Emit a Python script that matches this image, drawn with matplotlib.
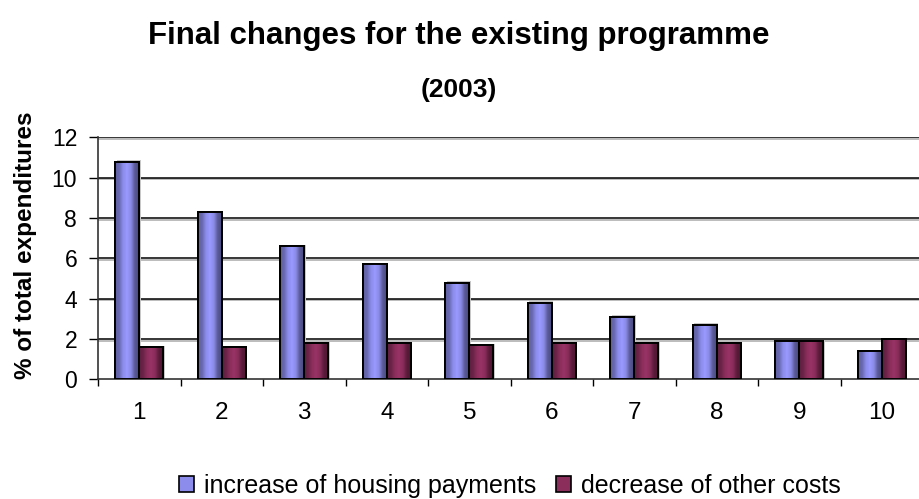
import numpy as np
import matplotlib.pyplot as plt
import matplotlib.patheffects as pe
from matplotlib.colors import LinearSegmentedColormap
from matplotlib.patches import Patch

plt.rcParams['font.family'] = ['Liberation Sans', 'DejaVu Sans']

programmes = ['1', '2', '3', '4', '5', '6', '7', '8', '9', '10']
housing = [10.8, 8.3, 6.6, 5.7, 4.8, 3.8, 3.1, 2.7, 1.9, 1.4]
other = [1.6, 1.6, 1.8, 1.8, 1.7, 1.8, 1.8, 1.8, 1.9, 2.0]

blue_cmap = LinearSegmentedColormap.from_list(
    'blue_bar', ['#5f5fa0', '#6868b0', '#8c8cec', '#9999ff', '#8a8ae6', '#5a5a98', '#4a4a80'])
red_cmap = LinearSegmentedColormap.from_list(
    'red_bar', ['#5e1d3e', '#6a2448', '#8c2e5c', '#993366', '#8a2d5b', '#5c1c3c', '#4c1632'])

fig = plt.figure(figsize=(9.19, 4.99), dpi=100)
ax = fig.add_axes([98 / 919, 1 - 379.3 / 499, 825 / 919, (379.3 - 137.3) / 499])

x = np.arange(len(programmes))
w = 0.29
grad = np.linspace(0, 1, 64).reshape(1, -1)


def shaded_bars(xpos, vals, cmap, base):
    bars = ax.bar(xpos, vals, w, color=base, edgecolor='black', linewidth=1.4, zorder=3,
                  path_effects=[pe.SimplePatchShadow(offset=(1.2, 1), shadow_rgbFace='#c8c8c8', alpha=1),
                                pe.Normal()])
    for b in bars:
        im = ax.imshow(grad, cmap=cmap, aspect='auto', zorder=3.5,
                       extent=(b.get_x(), b.get_x() + b.get_width(), 0, b.get_height()))
        im.set_clip_path(b)
        ax.bar(b.get_x(), b.get_height(), b.get_width(), align='edge', fill=False,
               edgecolor='black', linewidth=1.4, zorder=4)
    return bars


shaded_bars(x - w / 2, housing, blue_cmap, '#9999ff')
shaded_bars(x + w / 2, other, red_cmap, '#993366')

ax.set_xlim(-0.5, len(programmes) - 0.5)
ax.set_ylim(0, 12)
ax.set_yticks(range(0, 13, 2))
ax.set_xticks(x)
ax.set_xticklabels(programmes)
ax.set_xticks(np.arange(-0.5, len(programmes)), minor=True)
ax.tick_params(axis='x', which='major', length=0, labelsize=17.5, pad=16.5)
ax.tick_params(axis='x', which='minor', length=5, width=1, direction='out')
ax.tick_params(axis='y', length=6.5, width=1, labelsize=16.5, pad=8.5)

for v in range(2, 13, 2):
    ax.axhline(v, color='black', lw=1.1, zorder=1,
               path_effects=[pe.SimpleLineShadow(offset=(0, -1.2), shadow_color='#aaaaaa', alpha=1),
                             pe.Normal()])

for s in ['top', 'right']:
    ax.spines[s].set_visible(False)
ax.spines['left'].set_color('#333333')
ax.spines['bottom'].set_color('#333333')
ax.spines['left'].set_linewidth(1.2)
ax.spines['bottom'].set_linewidth(1.2)

ax.set_ylabel('% of total expenditures', fontsize=17.5, fontweight='bold')
ax.yaxis.set_label_coords(-61 / 825, (379.3 - 245) / (379.3 - 137.3))

fig.text(459 / 919, 1 - 44 / 499, 'Final changes for the existing programme',
         fontweight='bold', fontsize=22.5, ha='center', va='baseline')
fig.text(459 / 919, 1 - 90 / 499, '(2003)',
         fontweight='bold', fontsize=19, ha='center', va='center')

handles = [Patch(facecolor='#8c8cec', edgecolor='black', linewidth=1.2),
           Patch(facecolor='#8c2e5c', edgecolor='black', linewidth=1.2)]
fig.legend(handles, ['increase of housing payments', 'decrease of other costs'],
           loc='center', bbox_to_anchor=(510 / 919, 1 - 486 / 499), ncol=2, frameon=False,
           fontsize=18, handlelength=0.6, handleheight=0.6, handletextpad=0.4,
           columnspacing=0.8, borderpad=0)

fig.savefig('out.png', dpi=100)
